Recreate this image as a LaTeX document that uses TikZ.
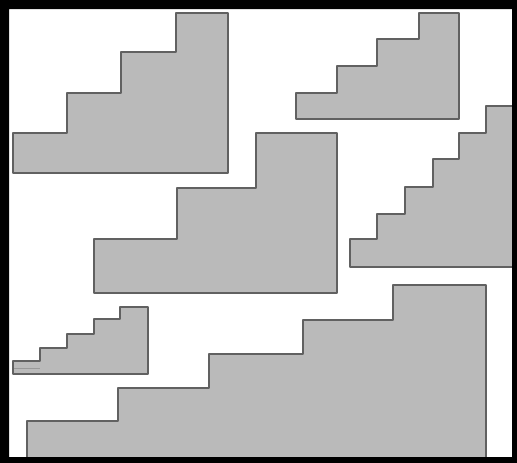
\documentclass[tikz,border=0pt]{standalone}
\usepackage{tikz}
\usepackage{xcolor}

\tikzset{
  stairs/.style={fill=black!27,draw=black!62,line width=1.3pt,line join=round},
  seam/.style={draw=black!40,line width=0.6pt}
}

\begin{document}
\begin{tikzpicture}[x=1pt,y=-1pt]
\useasboundingbox (0,0) rectangle (517,463);
\fill[white] (0,0) rectangle (517,463);

% Top left staircase
\draw[stairs] (13,133) -- (67,133) -- (67,93) -- (121,93) -- (121,52) -- (176,52) -- (176,13) -- (228,13) -- (228,173) -- (13,173) -- cycle;

% Top right staircase
\draw[stairs] (296,93) -- (337,93) -- (337,66) -- (377,66) -- (377,39) -- (419,39) -- (419,13) -- (459,13) -- (459,119) -- (296,119) -- cycle;

% Middle staircase
\draw[stairs] (94,239) -- (177,239) -- (177,188) -- (256,188) -- (256,133) -- (337,133) -- (337,293) -- (94,293) -- cycle;

% Right staircase
\draw[stairs] (350,239) -- (377,239) -- (377,214) -- (405,214) -- (405,187) -- (433,187) -- (433,159) -- (459,159) -- (459,133) -- (486,133) -- (486,106) -- (513,106) -- (513,267) -- (350,267) -- cycle;

% Small staircase
\draw[stairs] (13,361) -- (40,361) -- (40,348) -- (67,348) -- (67,334) -- (94,334) -- (94,319) -- (120,319) -- (120,307) -- (148,307) -- (148,374) -- (13,374) -- cycle;
\draw[seam] (14,368) -- (40,368);

% Bottom staircase
\draw[stairs] (27,421) -- (118,421) -- (118,388) -- (209,388) -- (209,354) -- (303,354) -- (303,320) -- (393,320) -- (393,285) -- (486,285) -- (486,458) -- (27,458) -- cycle;

% Frame
\fill[black,even odd rule] (0,0) rectangle (517,463) (9,9) rectangle (512,457);
\end{tikzpicture}
\end{document}
